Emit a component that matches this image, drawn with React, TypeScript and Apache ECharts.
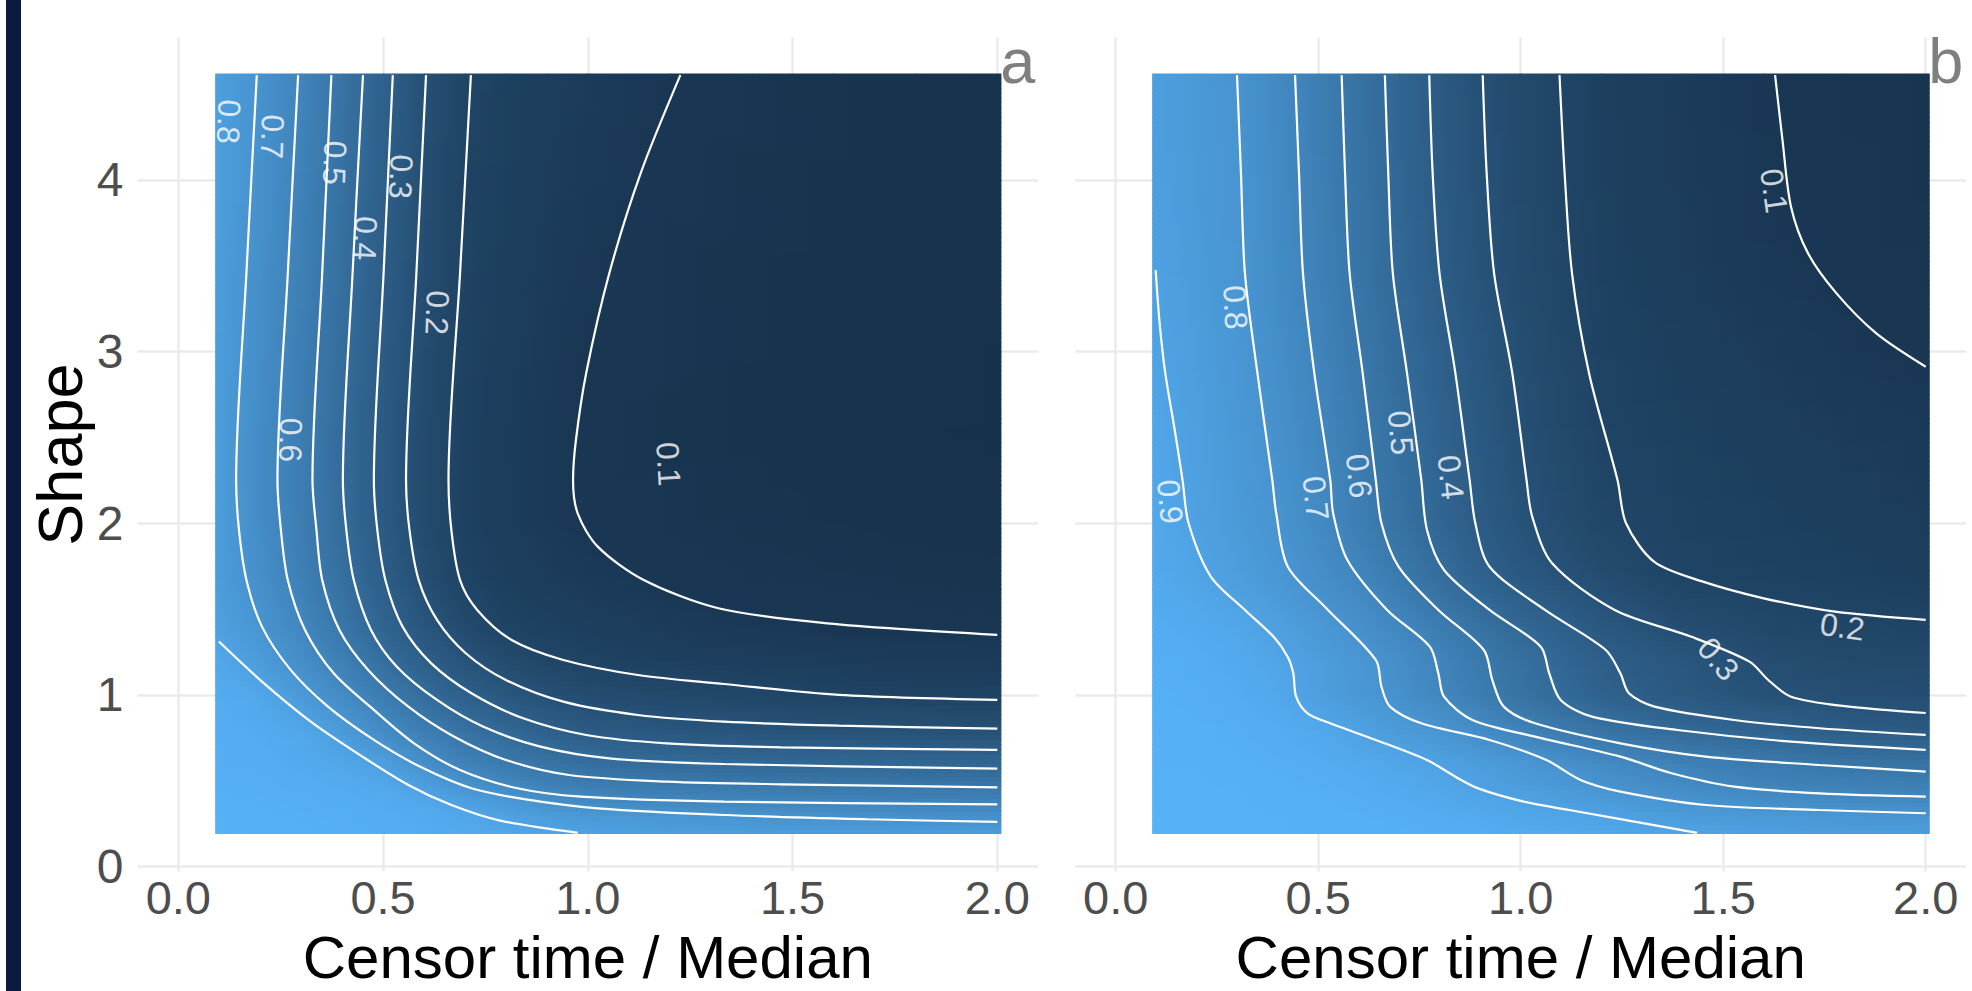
import React, { useEffect, useRef } from "react";
import * as echarts from "echarts";

const FONT = '"Liberation Sans", Arial, Helvetica, sans-serif';

// ---------- axes ----------
const X_TICKS = [0, 0.5, 1, 1.5, 2];
const Y_TICKS = [0, 1, 2, 3, 4];
const X_RANGE = [-0.1, 2.1];
const Y_RANGE = [-0.0288, 4.8288];
const X_TITLE = "Censor time / Median";
const Y_TITLE = "Shape";
const PANEL_TAGS = ["a", "b"];

// ---------- value field ----------
const GRID_X = [0.09, 0.2, 0.3, 0.4, 0.5, 0.6, 0.7, 0.8, 0.9, 1.0, 1.2, 1.4, 1.6, 1.8, 2.01];
const GRID_Y = [0.19, 0.3, 0.4, 0.5, 0.6, 0.8, 1.0, 1.2, 1.4, 1.7, 2.0, 2.5, 3.0, 3.5, 4.0, 4.62];

const FIELD_A = [
  [1.0, 0.995, 0.99, 0.985, 0.975, 0.965, 0.95, 0.935, 0.915, 0.897, 0.875, 0.865, 0.86, 0.855, 0.852],
  [0.995, 0.99, 0.985, 0.98, 0.97, 0.955, 0.93, 0.891, 0.852, 0.83, 0.812, 0.798, 0.78, 0.77, 0.762],
  [0.99, 0.985, 0.98, 0.97, 0.955, 0.925, 0.866, 0.816, 0.758, 0.711, 0.69, 0.679, 0.673, 0.668, 0.663],
  [0.985, 0.98, 0.97, 0.955, 0.925, 0.857, 0.772, 0.693, 0.649, 0.622, 0.596, 0.585, 0.578, 0.572, 0.565],
  [0.98, 0.97, 0.955, 0.93, 0.877, 0.773, 0.678, 0.621, 0.572, 0.541, 0.512, 0.496, 0.488, 0.48, 0.473],
  [0.975, 0.96, 0.934, 0.846, 0.737, 0.642, 0.554, 0.479, 0.424, 0.38, 0.346, 0.328, 0.317, 0.31, 0.303],
  [0.965, 0.933, 0.839, 0.737, 0.633, 0.52, 0.423, 0.356, 0.3, 0.273, 0.243, 0.223, 0.202, 0.197, 0.192],
  [0.94, 0.854, 0.759, 0.654, 0.531, 0.414, 0.325, 0.268, 0.222, 0.197, 0.174, 0.157, 0.144, 0.138, 0.131],
  [0.89, 0.804, 0.706, 0.588, 0.459, 0.346, 0.258, 0.196, 0.182, 0.164, 0.133, 0.113, 0.103, 0.097, 0.094],
  [0.865, 0.765, 0.659, 0.535, 0.405, 0.285, 0.195, 0.167, 0.142, 0.121, 0.096, 0.09, 0.085, 0.081, 0.078],
  [0.86, 0.748, 0.642, 0.513, 0.381, 0.264, 0.186, 0.15, 0.121, 0.099, 0.088, 0.08, 0.074, 0.069, 0.065],
  [0.86, 0.747, 0.638, 0.509, 0.378, 0.263, 0.185, 0.148, 0.118, 0.097, 0.082, 0.072, 0.064, 0.058, 0.054],
  [0.865, 0.757, 0.65, 0.522, 0.39, 0.273, 0.191, 0.155, 0.125, 0.102, 0.085, 0.074, 0.066, 0.06, 0.056],
  [0.87, 0.768, 0.662, 0.536, 0.403, 0.283, 0.196, 0.162, 0.135, 0.111, 0.088, 0.077, 0.069, 0.063, 0.058],
  [0.88, 0.778, 0.675, 0.55, 0.416, 0.293, 0.2, 0.17, 0.144, 0.122, 0.094, 0.082, 0.073, 0.066, 0.06],
  [0.88, 0.792, 0.691, 0.566, 0.433, 0.306, 0.213, 0.178, 0.155, 0.136, 0.104, 0.088, 0.077, 0.068, 0.06],
];

const FIELD_B = [
  [1.0, 1.0, 0.999, 0.998, 0.996, 0.993, 0.988, 0.98, 0.97, 0.958, 0.935, 0.905, 0.885, 0.87, 0.86],
  [1.0, 0.999, 0.998, 0.996, 0.993, 0.987, 0.978, 0.965, 0.948, 0.93, 0.9, 0.849, 0.83, 0.817, 0.807],
  [0.999, 0.998, 0.997, 0.994, 0.988, 0.978, 0.962, 0.94, 0.915, 0.894, 0.84, 0.787, 0.749, 0.723, 0.708],
  [0.998, 0.997, 0.995, 0.99, 0.98, 0.965, 0.945, 0.92, 0.886, 0.852, 0.785, 0.72, 0.671, 0.652, 0.637],
  [0.997, 0.995, 0.99, 0.98, 0.97, 0.95, 0.925, 0.895, 0.861, 0.827, 0.745, 0.674, 0.624, 0.586, 0.563],
  [0.995, 0.99, 0.98, 0.965, 0.94, 0.888, 0.847, 0.806, 0.744, 0.675, 0.563, 0.494, 0.444, 0.398, 0.374],
  [0.99, 0.98, 0.965, 0.94, 0.875, 0.83, 0.776, 0.707, 0.634, 0.563, 0.441, 0.368, 0.316, 0.288, 0.281],
  [0.985, 0.97, 0.95, 0.915, 0.866, 0.82, 0.76, 0.69, 0.613, 0.542, 0.416, 0.348, 0.281, 0.252, 0.244],
  [0.97, 0.955, 0.93, 0.881, 0.831, 0.776, 0.711, 0.634, 0.558, 0.485, 0.365, 0.283, 0.236, 0.215, 0.207],
  [0.95, 0.91, 0.868, 0.821, 0.764, 0.701, 0.615, 0.523, 0.439, 0.369, 0.271, 0.203, 0.188, 0.178, 0.165],
  [0.94, 0.891, 0.846, 0.801, 0.731, 0.65, 0.56, 0.473, 0.392, 0.324, 0.227, 0.19, 0.176, 0.162, 0.143],
  [0.925, 0.877, 0.832, 0.78, 0.712, 0.625, 0.536, 0.45, 0.371, 0.3, 0.205, 0.178, 0.157, 0.138, 0.121],
  [0.91, 0.863, 0.819, 0.76, 0.687, 0.602, 0.511, 0.426, 0.35, 0.284, 0.193, 0.162, 0.136, 0.114, 0.097],
  [0.895, 0.85, 0.813, 0.743, 0.667, 0.578, 0.486, 0.399, 0.325, 0.265, 0.184, 0.146, 0.116, 0.097, 0.088],
  [0.88, 0.84, 0.806, 0.737, 0.658, 0.568, 0.475, 0.387, 0.312, 0.256, 0.178, 0.138, 0.108, 0.092, 0.082],
  [0.875, 0.836, 0.8, 0.73, 0.65, 0.561, 0.468, 0.38, 0.305, 0.251, 0.175, 0.135, 0.104, 0.09, 0.08],
];

// ---------- contour lines ----------
const CONTOURS_A = [
  [[1.226, 4.61], [1.129, 4.038], [1.0525, 3.456], [0.996, 2.874], [0.971, 2.485], [0.964, 2.252], [0.9753, 2.058], [1.0243, 1.864], [1.1365, 1.67], [1.3187, 1.505], [1.585, 1.417], [2.0, 1.35]],
  [[0.7145, 4.61], [0.688, 3.456], [0.6598, 2.252], [0.6668, 1.961], [0.6879, 1.67], [0.7299, 1.495], [0.814, 1.32], [0.9402, 1.204], [1.1224, 1.1165], [1.3327, 1.064], [1.6131, 1.0], [2.0, 0.971]],
  [[0.605, 4.61], [0.5814, 3.456], [0.5561, 2.252], [0.5645, 1.961], [0.5869, 1.67], [0.6318, 1.437], [0.7019, 1.243], [0.8, 1.087], [0.9402, 0.961], [1.1224, 0.8835], [1.3327, 0.8447], [1.6131, 0.8214], [2.0, 0.804]],
  [[0.5238, 4.61], [0.5013, 3.456], [0.4776, 2.252], [0.486, 1.961], [0.5056, 1.67], [0.5477, 1.398], [0.6178, 1.184], [0.7159, 1.01], [0.8421, 0.864], [0.9963, 0.767], [1.1925, 0.7185], [1.4729, 0.6952], [2.0, 0.68]],
  [[0.451, 4.61], [0.4256, 3.456], [0.4019, 2.252], [0.4103, 1.961], [0.4285, 1.67], [0.4706, 1.379], [0.5337, 1.165], [0.6318, 0.971], [0.7439, 0.816], [0.8841, 0.699], [1.0523, 0.631], [1.3327, 0.598], [2.0, 0.571]],
  [[0.3738, 4.61], [0.3514, 3.456], [0.3276, 2.252], [0.3374, 1.961], [0.3514, 1.67], [0.3935, 1.379], [0.4636, 1.146], [0.5617, 0.932], [0.6739, 0.757], [0.8, 0.6215], [0.9542, 0.534], [1.1925, 0.4953], [1.4729, 0.4797], [2.0, 0.4622]],
  [[0.2926, 4.61], [0.2674, 3.456], [0.2421, 2.252], [0.2505, 1.961], [0.2673, 1.67], [0.3094, 1.379], [0.3795, 1.126], [0.4776, 0.913], [0.5757, 0.7185], [0.6879, 0.563], [0.8281, 0.4564], [0.9823, 0.408], [1.3327, 0.379], [2.0, 0.3633]],
  [[0.1917, 4.61], [0.1663, 3.456], [0.1412, 2.252], [0.1482, 1.961], [0.1664, 1.67], [0.2043, 1.398], [0.2743, 1.146], [0.3655, 0.932], [0.4776, 0.738], [0.5897, 0.583], [0.7159, 0.4564], [0.8561, 0.3885], [1.0243, 0.34], [1.3327, 0.301], [1.6832, 0.276], [2.0, 0.2604]],
  [[0.0991, 1.311], [0.2043, 1.078], [0.3234, 0.845], [0.4496, 0.641], [0.5617, 0.476], [0.667, 0.359], [0.7861, 0.268], [0.9753, 0.197]],
];

const CONTOURS_B = [
  [[1.6281, 4.61], [1.6464, 4.232], [1.6674, 3.844], [1.7096, 3.572], [1.7798, 3.339], [1.8781, 3.106], [2.0, 2.912]],
  [[1.0958, 4.61], [1.1085, 4.038], [1.1267, 3.456], [1.1689, 2.873], [1.239, 2.252], [1.2601, 2.0], [1.33, 1.775], [1.45, 1.66], [1.6, 1.563], [1.776, 1.485], [2.0, 1.437]],
  [[0.9062, 4.61], [0.916, 4.038], [0.9343, 3.456], [0.9793, 2.873], [1.0144, 2.252], [1.0284, 2.039], [1.0776, 1.767], [1.2321, 1.495], [1.42, 1.34], [1.565, 1.194], [1.6113, 1.087], [1.6675, 0.99], [1.8, 0.935], [2.0, 0.895]],
  [[0.7742, 4.61], [0.7826, 4.038], [0.7995, 3.456], [0.8388, 2.873], [0.8739, 2.252], [0.888, 2.0], [0.9231, 1.747], [1.06, 1.495], [1.21, 1.262], [1.2461, 1.126], [1.2672, 1.01], [1.3304, 0.932], [1.527, 0.854], [1.7377, 0.806], [2.0, 0.767]],
  [[0.6646, 4.61], [0.673, 4.038], [0.6843, 3.456], [0.7194, 2.873], [0.7545, 2.252], [0.7686, 1.961], [0.8107, 1.728], [0.9231, 1.495], [1.0495, 1.2815], [1.0705, 1.126], [1.0986, 0.971], [1.1759, 0.874], [1.3866, 0.796], [1.6675, 0.728], [2.0, 0.68]],
  [[0.5579, 4.61], [0.5663, 4.038], [0.5776, 3.456], [0.6099, 2.873], [0.6422, 2.252], [0.6562, 2.0], [0.6984, 1.747], [0.7966, 1.495], [0.909, 1.262], [0.93, 1.087], [0.9581, 0.932], [1.0354, 0.835], [1.2461, 0.7185], [1.4568, 0.641], [1.7377, 0.592], [2.0, 0.5535]],
  [[0.4428, 4.61], [0.4526, 4.038], [0.4624, 3.456], [0.4905, 2.873], [0.5298, 2.252], [0.5369, 2.058], [0.572, 1.786], [0.6702, 1.495], [0.7756, 1.2815], [0.7966, 1.126], [0.8107, 0.99], [0.8809, 0.854], [1.0354, 0.757], [1.2461, 0.641], [1.3725, 0.544], [1.527, 0.466], [1.7377, 0.427], [2.0, 0.408]],
  [[0.2995, 4.61], [0.3093, 4.038], [0.3191, 3.456], [0.35, 2.873], [0.3866, 2.252], [0.3964, 2.058], [0.425, 1.747], [0.52, 1.505], [0.6422, 1.204], [0.6562, 1.0485], [0.6773, 0.932], [0.7545, 0.835], [0.9231, 0.738], [1.0635, 0.621], [1.1478, 0.505], [1.2461, 0.437], [1.4568, 0.359], [1.7377, 0.33], [2.0, 0.311]],
  [[0.0986, 3.475], [0.1085, 3.165], [0.1225, 2.873], [0.146, 2.54], [0.165, 2.252], [0.18, 2.0], [0.2349, 1.689], [0.3191, 1.495], [0.3894, 1.34], [0.4245, 1.223], [0.4385, 1.126], [0.4455, 0.99], [0.4736, 0.893], [0.5298, 0.835], [0.6422, 0.738], [0.7686, 0.621], [0.8388, 0.524], [0.895, 0.456], [1.0072, 0.379], [1.1197, 0.33], [1.4357, 0.197]],
];

// ---------- contour labels ----------
const LABELS_A = [
  { text: "0.8", x: 0.123, y: 4.339, angle: -92 },
  { text: "0.7", x: 0.2295, y: 4.252, angle: -92 },
  { text: "0.5", x: 0.382, y: 4.1, angle: -92 },
  { text: "0.3", x: 0.5436, y: 4.019, angle: -92 },
  { text: "0.4", x: 0.4567, y: 3.66, angle: -92 },
  { text: "0.2", x: 0.632, y: 3.227, angle: -92 },
  { text: "0.6", x: 0.274, y: 2.485, angle: -91 },
  { text: "0.1", x: 1.197, y: 2.345, angle: -87 },
];
const LABELS_B = [
  { text: "0.1", x: 1.6254, y: 3.937, angle: -82 },
  { text: "0.8", x: 0.2953, y: 3.258, angle: -87 },
  { text: "0.9", x: 0.1341, y: 2.126, angle: -85 },
  { text: "0.7", x: 0.4938, y: 2.1456, angle: -84 },
  { text: "0.6", x: 0.6007, y: 2.2755, angle: -84 },
  { text: "0.5", x: 0.7037, y: 2.528, angle: -85 },
  { text: "0.4", x: 0.8271, y: 2.268, angle: -84 },
  { text: "0.3", x: 1.488, y: 1.2097, angle: -50 },
  { text: "0.2", x: 1.794, y: 1.398, angle: -8 },
];

// ---------- colour scale (ggplot default, Lab interpolation) ----------
const LOW = "#132B43";
const HIGH = "#56B1F7";
const hex2rgb = (h: string) => [1, 3, 5].map((k) => parseInt(h.slice(k, k + 2), 16));
const toLin = (c: number) => {
  c /= 255;
  return c <= 0.04045 ? c / 12.92 : Math.pow((c + 0.055) / 1.055, 2.4);
};
const fromLin = (c: number) => {
  const v = c <= 0.0031308 ? 12.92 * c : 1.055 * Math.pow(c, 1 / 2.4) - 0.055;
  return Math.round(Math.min(1, Math.max(0, v)) * 255);
};
const WX = 0.95047, WZ = 1.08883;
const fLab = (t: number) => (t > 216 / 24389 ? Math.cbrt(t) : ((24389 / 27) * t + 16) / 116);
const fInv = (t: number) => (t * t * t > 216 / 24389 ? t * t * t : (116 * t - 16) / (24389 / 27));
function rgb2lab(rgb: number[]) {
  const [r, g, b] = rgb.map(toLin);
  const X = (0.4124564 * r + 0.3575761 * g + 0.1804375 * b) / WX;
  const Y = 0.2126729 * r + 0.7151522 * g + 0.072175 * b;
  const Z = (0.0193339 * r + 0.119192 * g + 0.9503041 * b) / WZ;
  const fx = fLab(X), fy = fLab(Y), fz = fLab(Z);
  return [116 * fy - 16, 500 * (fx - fy), 200 * (fy - fz)];
}
function lab2rgb(lab: number[]) {
  const fy = (lab[0] + 16) / 116, fx = fy + lab[1] / 500, fz = fy - lab[2] / 200;
  const X = fInv(fx) * WX, Y = fInv(fy), Z = fInv(fz) * WZ;
  const r = 3.2404542 * X - 1.5371385 * Y - 0.4985314 * Z;
  const g = -0.969266 * X + 1.8760108 * Y + 0.041556 * Z;
  const b = 0.0556434 * X - 0.2040259 * Y + 1.0572252 * Z;
  return [fromLin(r), fromLin(g), fromLin(b)];
}
const LAB_LO = rgb2lab(hex2rgb(LOW));
const LAB_HI = rgb2lab(hex2rgb(HIGH));
const LUT: string[] = [];
for (let k = 0; k <= 400; k++) {
  const t = k / 400;
  const c = lab2rgb([0, 1, 2].map((d) => LAB_LO[d] + (LAB_HI[d] - LAB_LO[d]) * t));
  LUT.push(`rgb(${c[0]},${c[1]},${c[2]})`);
}
const colorOf = (v: number) => LUT[Math.round(Math.min(1, Math.max(0, v)) * 400)];

// ---------- layout ----------
const PANELS = [
  { left: 137.35, width: 900.9 },
  { left: 1075.2, width: 891 },
];
const PANEL_TOP = 37.6;
const PANEL_HEIGHT = 834;
const STRIP = 5;

function heatSeries(field: number[][], idx: number) {
  const cells: number[][] = [];
  for (let j = 0; j < GRID_Y.length - 1; j++)
    for (let i = 0; i < GRID_X.length - 1; i++)
      cells.push([(GRID_X[i] + GRID_X[i + 1]) / 2, (GRID_Y[j] + GRID_Y[j + 1]) / 2, i, j]);
  return {
    type: "custom",
    xAxisIndex: idx,
    yAxisIndex: idx,
    z: 2,
    silent: true,
    clip: false,
    data: cells,
    renderItem: (_params: any, api: any) => {
      const i = api.value(2);
      const j = api.value(3);
      const bl = api.coord([GRID_X[i], GRID_Y[j]]);
      const tr = api.coord([GRID_X[i + 1], GRID_Y[j + 1]]);
      const x0 = bl[0], x1 = tr[0], yb = bl[1], yt = tr[1];
      const h = yb - yt;
      const n = Math.max(1, Math.ceil(h / STRIP));
      const padX = i < GRID_X.length - 2 ? 0.8 : 0;
      const children: any[] = [];
      for (let k = 0; k < n; k++) {
        const v = (k + 0.5) / n;
        const zl = field[j][i] * (1 - v) + field[j + 1][i] * v;
        const zr = field[j][i + 1] * (1 - v) + field[j + 1][i + 1] * v;
        const top = yb - (h * (k + 1)) / n;
        const padY = j === 0 && k === 0 ? 0 : 0.8;
        children.push({
          type: "rect",
          shape: { x: x0, y: top, width: x1 - x0 + padX, height: h / n + padY },
          style: {
            fill: new echarts.graphic.LinearGradient(0, 0, 1, 0, [
              { offset: 0, color: colorOf(zl) },
              { offset: 0.5, color: colorOf((zl + zr) / 2) },
              { offset: 1, color: colorOf(zr) },
            ]),
          },
        });
      }
      return { type: "group", children };
    },
  };
}

function gridSeries(idx: number) {
  return {
    type: "line",
    xAxisIndex: idx,
    yAxisIndex: idx,
    z: 1,
    silent: true,
    data: [[0, 0]],
    symbol: "none",
    showSymbol: false,
    lineStyle: { width: 0 },
    markLine: {
      z: 1,
      silent: true,
      symbol: ["none", "none"],
      label: { show: false },
      emphasis: { disabled: true },
      lineStyle: { color: "#EBEBEB", width: 2.5, type: "solid" },
      data: [...X_TICKS.map((v) => ({ xAxis: v })), ...Y_TICKS.map((v) => ({ yAxis: v }))],
    },
  };
}

function contourSeries(lines: number[][][], idx: number) {
  return lines.map((pts) => ({
    type: "line",
    xAxisIndex: idx,
    yAxisIndex: idx,
    z: 3,
    silent: true,
    data: pts,
    smooth: 0.3,
    symbol: "none",
    showSymbol: false,
    lineStyle: { color: "#ffffff", width: 2.2 },
    emphasis: { disabled: true },
  }));
}

function labelSeries(labels: { text: string; x: number; y: number; angle: number }[], idx: number) {
  return {
    type: "scatter",
    xAxisIndex: idx,
    yAxisIndex: idx,
    z: 4,
    silent: true,
    symbolSize: 1,
    itemStyle: { color: "rgba(0,0,0,0)" },
    label: { show: true, position: "inside", color: "#ffffff", fontSize: 32, lineHeight: 32, fontFamily: FONT },
    data: labels.map((l) => ({ value: [l.x, l.y], label: { rotate: l.angle, formatter: l.text } })),
  };
}

export default function App() {
  const ref = useRef<HTMLDivElement>(null);
  useEffect(() => {
    if (!ref.current) return;
    const chart = echarts.init(ref.current, undefined, { renderer: "svg" });
    const option: any = {
      animation: false,
      backgroundColor: "#ffffff",
      textStyle: { fontFamily: FONT },
      grid: PANELS.map((p) => ({
        left: p.left,
        top: PANEL_TOP,
        width: p.width,
        height: PANEL_HEIGHT,
        containLabel: false,
        outerBoundsMode: "none",
      })),
      xAxis: PANELS.map((_p, i) => ({
        type: "value",
        gridIndex: i,
        min: X_RANGE[0],
        max: X_RANGE[1],
        axisLine: { show: false },
        axisTick: { show: false },
        splitLine: { show: false },
        axisLabel: {
          customValues: X_TICKS,
          formatter: (v: number) => v.toFixed(1),
          fontSize: 47,
          lineHeight: 47,
          color: "#4D4D4D",
          margin: 2,
          fontFamily: FONT,
        },
      })),
      yAxis: PANELS.map((_p, i) => ({
        type: "value",
        gridIndex: i,
        min: Y_RANGE[0],
        max: Y_RANGE[1],
        axisLine: { show: false },
        axisTick: { show: false },
        splitLine: { show: false },
        axisLabel:
          i === 0
            ? {
                customValues: Y_TICKS,
                formatter: (v: number) => String(v),
                fontSize: 48,
                lineHeight: 46,
                color: "#4D4D4D",
                margin: 14,
                fontFamily: FONT,
              }
            : { show: false },
      })),
      series: [
        gridSeries(0),
        gridSeries(1),
        heatSeries(FIELD_A, 0),
        heatSeries(FIELD_B, 1),
        ...contourSeries(CONTOURS_A, 0),
        ...contourSeries(CONTOURS_B, 1),
        labelSeries(LABELS_A, 0),
        labelSeries(LABELS_B, 1),
      ],
      graphic: [
        { type: "rect", shape: { x: 6, y: 0, width: 15, height: 991 }, style: { fill: "#0B1A3C" }, silent: true },
        ...PANELS.map((p) => ({
          type: "text",
          x: p.left + p.width / 2,
          y: 957,
          silent: true,
          style: {
            text: X_TITLE,
            fontSize: 60,
            lineHeight: 52,
            fontFamily: FONT,
            fill: "#000000",
            textAlign: "center",
            textVerticalAlign: "middle",
            align: "center",
            verticalAlign: "middle",
          },
        })),
        {
          type: "text",
          x: 59.5,
          y: PANEL_TOP + PANEL_HEIGHT / 2,
          rotation: Math.PI / 2,
          silent: true,
          style: {
            text: Y_TITLE,
            fontSize: 63,
            lineHeight: 52,
            fontFamily: FONT,
            fill: "#000000",
            textAlign: "center",
            textVerticalAlign: "middle",
            align: "center",
            verticalAlign: "middle",
          },
        },
        ...PANELS.map((p, i) => ({
          type: "text",
          x: p.left + p.width - 3,
          y: 60.5,
          silent: true,
          style: {
            text: PANEL_TAGS[i],
            fontSize: 63,
            lineHeight: 52,
            fontFamily: FONT,
            fill: "#7F7F7F",
            textAlign: "right",
            textVerticalAlign: "middle",
            align: "right",
            verticalAlign: "middle",
          },
        })),
      ],
    };
    chart.setOption(option);
    return () => chart.dispose();
  }, []);
  return (
    <div
      ref={ref}
      style={{ position: "fixed", left: 0, top: 0, width: 1972, height: 991, background: "#ffffff" }}
    />
  );
}
